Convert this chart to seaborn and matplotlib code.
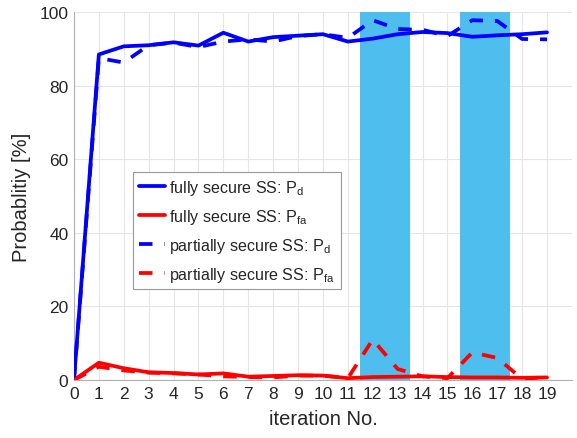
import numpy as np
import pandas as pd
import matplotlib
matplotlib.use("Agg")
import matplotlib.pyplot as plt
import seaborn as sns

iterations = list(range(20))
full_pd = [0, 88.5, 90.7, 91.0, 91.8, 90.9, 94.4, 92.0, 93.2, 93.6, 94.0, 92.0, 92.8, 94.0, 94.6, 94.3, 93.3, 93.7, 94.0, 94.5]
full_pfa = [0, 4.7, 3.2, 2.1, 1.9, 1.5, 1.8, 0.9, 1.1, 1.3, 1.2, 0.5, 0.8, 0.9, 1.0, 0.8, 0.7, 0.7, 0.6, 0.7]
part_pd = [0, 87.5, 86.3, 91.0, 91.7, 90.5, 92.0, 92.6, 92.0, 93.5, 94.0, 93.0, 97.8, 95.4, 95.2, 93.5, 97.8, 97.6, 92.7, 92.6]
part_pfa = [0, 3.6, 2.6, 2.0, 1.8, 1.5, 1.0, 0.8, 0.7, 1.2, 1.2, 0.5, 11.0, 3.0, 1.0, 0.5, 7.5, 6.0, 0.3, 0.8]
series_names = [r"fully secure SS: P$_{\mathrm{d}}$", r"fully secure SS: P$_{\mathrm{fa}}$",
                r"partially secure SS: P$_{\mathrm{d}}$", r"partially secure SS: P$_{\mathrm{fa}}$"]
shaded_spans = [(11.5, 13.5), (15.5, 17.5)]
x_ticks = list(range(20))
y_ticks = [0, 20, 40, 60, 80, 100]

sns.set_style("white")
plt.rcParams['font.family'] = ['Liberation Sans', 'DejaVu Sans']
plt.rcParams['mathtext.fontset'] = 'custom'
plt.rcParams['mathtext.rm'] = 'Liberation Sans'
plt.rcParams['mathtext.it'] = 'Liberation Sans'

frames = []
for name, vals in zip(series_names, [full_pd, full_pfa, part_pd, part_pfa]):
    frames.append(pd.DataFrame({"iter": iterations, "val": vals, "series": name}))
df = pd.concat(frames, ignore_index=True)

fig = plt.figure(figsize=(5.77, 4.39), dpi=100)
ax = fig.add_axes([0.1282, 0.1321, 0.863, 0.838])

for a, b in shaded_spans:
    ax.axvspan(a, b, color="#4DBEEE", lw=0, zorder=1)

palette = {series_names[0]: "#0000FF", series_names[1]: "#FF0000",
           series_names[2]: "#0000FF", series_names[3]: "#FF0000"}
dashes = {series_names[0]: "", series_names[1]: "",
          series_names[2]: (3.6, 3.2), series_names[3]: (3.6, 3.2)}
sns.lineplot(data=df, x="iter", y="val", hue="series", style="series",
             palette=palette, dashes=dashes, linewidth=2.7, ax=ax,
             hue_order=series_names, style_order=series_names, zorder=3)

ax.set_xlim(0, 20)
ax.set_ylim(0, 100)
ax.set_xticks(x_ticks)
ax.set_yticks(y_ticks)
ax.grid(True, color="#e6e6e6", linewidth=0.8, zorder=0)
ax.set_axisbelow(True)
for s in ["top", "right"]:
    ax.spines[s].set_visible(False)
for s in ["left", "bottom"]:
    ax.spines[s].set_color("#b0b0b0")
    ax.spines[s].set_linewidth(0.8)
ax.tick_params(axis="both", labelsize=12.5, colors="#262626", length=3, direction="in", pad=4)
ax.tick_params(axis="both", color="#b0b0b0")
ax.set_xlabel("iteration No.", fontsize=14.5, color="#262626", labelpad=6)
ax.set_ylabel("Probablitiy [%]", fontsize=14.5, color="#262626", labelpad=6)

leg = ax.legend(loc="upper left", bbox_to_anchor=(0.1185, 0.565), fontsize=11.6,
                frameon=True, fancybox=False, handlelength=1.65, borderpad=0.35,
                labelspacing=0.62, handletextpad=0.25, borderaxespad=0)
leg.get_frame().set_edgecolor("#999999")
leg.get_frame().set_linewidth(0.8)
leg.get_frame().set_alpha(1)

fig.savefig("out.png", dpi=100)
